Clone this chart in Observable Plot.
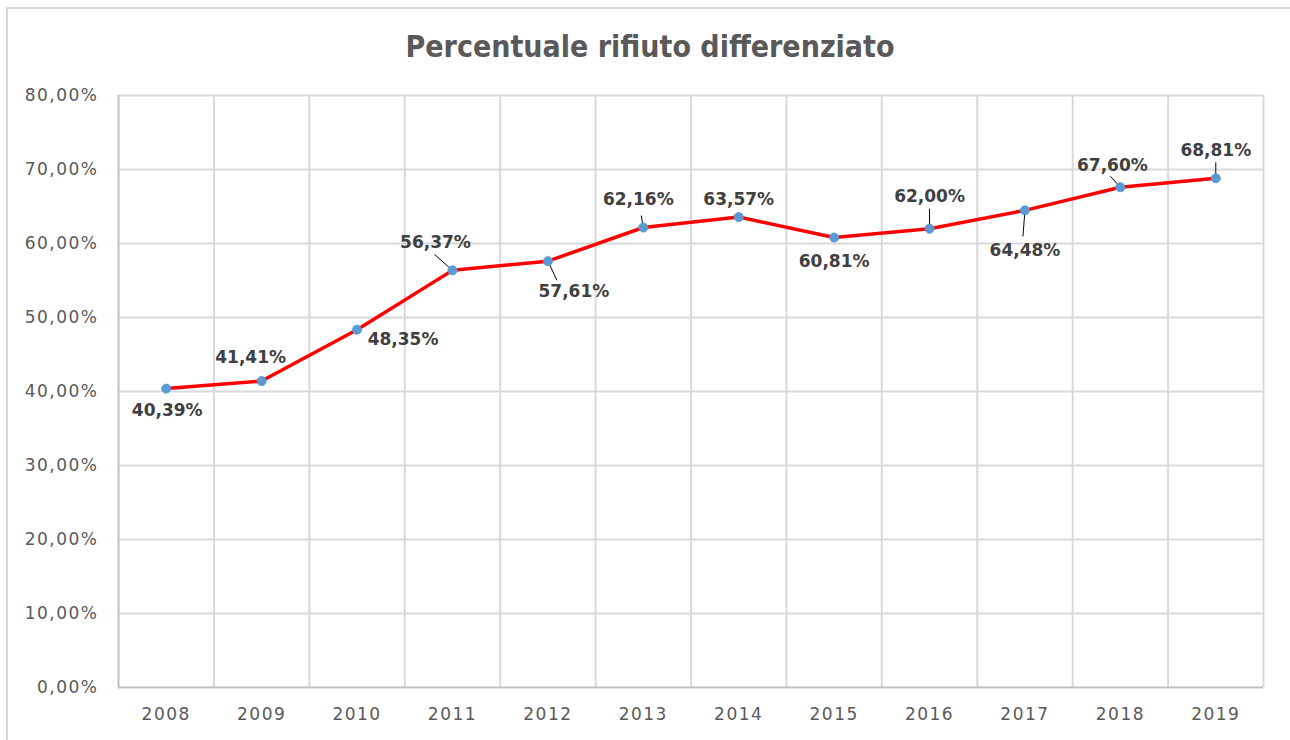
<!DOCTYPE html>
<html>
<head>
<meta charset="utf-8">
<script src="https://cdn.jsdelivr.net/npm/d3@7"></script>
<script src="https://cdn.jsdelivr.net/npm/@observablehq/plot@0.6"></script>
<style>
  html, body { margin: 0; padding: 0; background: #fff; }
  #frame { position: relative; width: 1290px; height: 740px; overflow: hidden; }
  #border { position: absolute; left: 6px; top: 7px; right: 0; bottom: -5px;
            border-top: 2px solid #d9d9d9; border-left: 2px solid #d9d9d9; }
  #title { position: absolute; left: 0; width: 1300px; top: 32px; line-height: 1; text-align: center;
           font-family: "DejaVu Sans Condensed", "DejaVu Sans", sans-serif; font-weight: bold;
           font-size: 30px; color: #595959; }
  #chart { position: absolute; left: 0; top: 80px; }
  #chart [aria-label^="x-axis"] text, #chart [aria-label^="y-axis"] text { letter-spacing: 1.5px; }
</style>
</head>
<body>
<div id="frame">
  <div id="border"></div>
  <div id="title">Percentuale rifiuto differenziato</div>
  <div id="chart"></div>
</div>
<script>
const years = [2008, 2009, 2010, 2011, 2012, 2013, 2014, 2015, 2016, 2017, 2018, 2019];
const values = [40.39, 41.41, 48.35, 56.37, 57.61, 62.16, 63.57, 60.81, 62.00, 64.48, 67.60, 68.81];
const yTicks = [0, 10, 20, 30, 40, 50, 60, 70, 80];
// label placement offsets in pixels relative to each point
const labelDx = [1, -11, 46, -17, 26, -5, 0, 0, 0, 0, -8, 0];
const labelDy = [22, -24, 10, -28, 30, -28, -18, 24, -32, 40, -22, -28];
// leader line end offsets in pixels (null = no leader)
const leaderDx = [null, null, null, -18, 9, -2, null, null, 0, -2, -10, 0];
const leaderDy = [null, null, null, -16, 19, -12, null, null, -20, 26, -11, -16];

const W = 1290, H = 660, mt = 15, mb = 53, ml = 118, mr = 27;
const xDomain = [years[0] - 0.5, years[years.length - 1] + 0.5];
const yDomain = [0, 80];
const pxPerYear = (W - ml - mr) / (xDomain[1] - xDomain[0]);
const pxPerPct = (H - mt - mb) / (yDomain[1] - yDomain[0]);

const data = years.map((year, i) => ({
  year, value: values[i],
  lx: year + labelDx[i] / pxPerYear,
  ly: values[i] - labelDy[i] / pxPerPct,
  label: values[i].toFixed(2).replace(".", ",") + "%"
}));
const leaders = data.filter((d, i) => leaderDx[i] !== null).map(d => {
  const i = years.indexOf(d.year);
  return { x1: d.year, y1: d.value, x2: d.year + leaderDx[i] / pxPerYear, y2: d.value - leaderDy[i] / pxPerPct };
});
const gridX = years.map(y => y - 0.5).concat([years[years.length - 1] + 0.5]);
const fmtPct = d => d.toFixed(2).replace(".", ",") + "%";

const chart = Plot.plot({
  width: W, height: H, marginTop: mt, marginBottom: mb, marginLeft: ml, marginRight: mr,
  style: { fontFamily: "DejaVu Sans, sans-serif", fontSize: "17px", color: "#595959", background: "transparent" },
  x: { type: "linear", domain: xDomain, ticks: years, tickFormat: d => String(d), tickSize: 0, tickPadding: 20, label: null },
  y: { domain: yDomain, ticks: yTicks, tickFormat: fmtPct, tickSize: 0, tickPadding: 20, label: null },
  marks: [
    Plot.ruleY(yTicks.slice(1), { stroke: "#d9d9d9", strokeWidth: 2 }),
    Plot.ruleX(gridX.slice(1), { stroke: "#d9d9d9", strokeWidth: 2 }),
    Plot.ruleX([gridX[0]], { stroke: "#bfbfbf", strokeWidth: 2 }),
    Plot.ruleY([0], { stroke: "#bfbfbf", strokeWidth: 2 }),
    Plot.line(data, { x: "year", y: "value", stroke: "#ff0000", strokeWidth: 3.5 }),
    Plot.link(leaders, { x1: "x1", y1: "y1", x2: "x2", y2: "y2", stroke: "#000", strokeWidth: 1 }),
    Plot.dot(data, { x: "year", y: "value", r: 4.5, fill: "#5b9bd5", stroke: "#5b9bd5", strokeWidth: 1 }),
    Plot.text(data, { x: "lx", y: "ly", text: "label", fill: "#404040", fontWeight: "bold", fontSize: 17 })
  ]
});
document.getElementById("chart").appendChild(chart);
</script>
</body>
</html>
